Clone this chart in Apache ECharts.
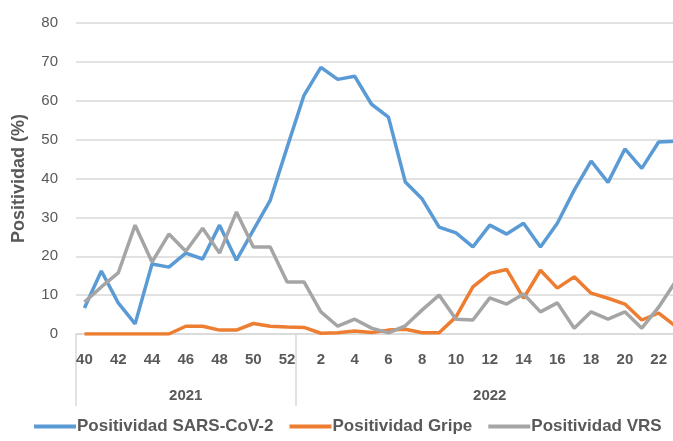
<!DOCTYPE html>
<html>
<head>
<meta charset="utf-8">
<script src="https://cdn.jsdelivr.net/npm/echarts@6/dist/echarts.min.js"></script>
<style>html,body{margin:0;padding:0;background:#fff;overflow:hidden;width:673px;height:441px;}#c{width:690px;height:441px;}</style>
</head>
<body>
<div id="c"></div>
<script>
var weeks2021 = [40,41,42,43,44,45,46,47,48,49,50,51,52];
var weeks2022 = [1,2,3,4,5,6,7,8,9,10,11,12,13,14,15,16,17,18,19,20,21,22,23];
var years = ['2021','2022'];
var sarsCov2 = [6.7,16.2,8.0,2.6,18.0,17.2,20.8,19.3,28.0,19.0,26.7,34.4,48.0,
  61.4,68.6,65.5,66.3,59.1,55.8,39.1,34.7,27.5,26.0,22.4,28.0,25.7,28.5,22.4,28.5,37.0,44.5,39.0,47.6,42.6,49.4,49.6];
var gripe = [0,0,0,0,0,0,2.0,2.0,1.0,1.0,2.7,2.0,1.8,
  1.7,0.2,0.3,0.8,0.4,1.0,1.2,0.3,0.3,4.4,12.1,15.6,16.6,9.2,16.4,11.8,14.7,10.5,9.2,7.7,3.6,5.4,2.0];
var vrs = [8.2,12.1,15.7,28.0,18.5,25.7,21.3,27.2,20.8,31.4,22.4,22.4,13.4,
  13.4,5.7,2.0,3.8,1.5,0.3,2.1,6.2,10.0,3.8,3.6,9.3,7.7,10.3,5.7,8.0,1.5,5.7,3.8,5.7,1.5,6.9,13.5];
var seriesNames = ['Positividad SARS-CoV-2','Positividad Gripe','Positividad VRS'];

var categories = weeks2021.concat(weeks2022).map(String);
var n2021 = weeks2021.length;
var yearLabels = categories.map(function(){return '';});
yearLabels[Math.floor((n2021 - 1) / 2)] = years[0];
yearLabels[n2021 + Math.floor((weeks2022.length - 1) / 2)] = years[1];

var chart = echarts.init(document.getElementById('c'));
var txt = '#595959';
var grid = '#d9d9d9';
var font = 'Liberation Sans';
chart.setOption({
  animation: false,
  textStyle: {fontFamily: font},
  grid: {left: 76, width: 608, top: 23, height: 311, containLabel: false},
  legend: {
    bottom: 1, left: 29, itemWidth: 42, itemHeight: 4, itemGap: 16,
    icon: 'rect',
    textStyle: {color: txt, fontSize: 17, fontWeight: 'bold', fontFamily: font, padding: [0,0,0,-4]},
    data: seriesNames
  },
  xAxis: [{
    type: 'category', data: categories, boundaryGap: true, position: 'bottom',
    axisLine: {show: true, lineStyle: {color: grid, width: 1.5}},
    axisTick: {show: false},
    axisLabel: {interval: 1, color: txt, fontSize: 15, fontWeight: 'bold', margin: 18}
  }, {
    type: 'category', data: yearLabels, boundaryGap: true, position: 'bottom',
    axisLine: {show: false},
    axisTick: {show: true, length: 72, lineStyle: {color: grid, width: 1.5},
      interval: function(i){ return i === 0 || i === n2021; }},
    axisLabel: {interval: 0, color: txt, fontSize: 15, fontWeight: 'bold', margin: 54}
  }],
  yAxis: {
    type: 'value', min: 0, max: 80, interval: 10,
    name: 'Positividad (%)', nameLocation: 'middle', nameGap: 48,
    nameTextStyle: {color: txt, fontSize: 18, fontWeight: 'bold', fontFamily: font},
    axisLine: {show: false}, axisTick: {show: false},
    axisLabel: {color: txt, fontSize: 15, margin: 18},
    splitLine: {lineStyle: {color: grid, width: 1.5}}
  },
  series: [
    {name: seriesNames[0], type: 'line', data: sarsCov2, symbol: 'none', lineStyle: {width: 3.5, color: '#5B9BD5'}, itemStyle: {color: '#5B9BD5'}},
    {name: seriesNames[1], type: 'line', data: gripe, symbol: 'none', lineStyle: {width: 3.5, color: '#ED7D31'}, itemStyle: {color: '#ED7D31'}},
    {name: seriesNames[2], type: 'line', data: vrs, symbol: 'none', lineStyle: {width: 3.5, color: '#A5A5A5'}, itemStyle: {color: '#A5A5A5'}}
  ]
});
</script>
</body>
</html>
